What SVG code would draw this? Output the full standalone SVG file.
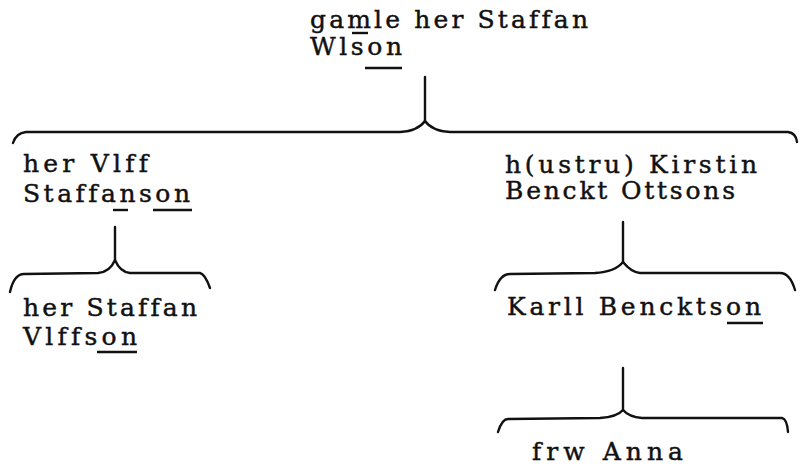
<svg xmlns="http://www.w3.org/2000/svg" width="801" height="470" viewBox="0 0 801 470">
<style>
text{font-family:"DejaVu Serif","Liberation Serif",serif;font-size:25px;fill:#111;stroke:#111;stroke-width:0.45;font-variant-ligatures:none;}
.ln{fill:none;stroke:#111;stroke-width:2.4;stroke-linecap:round;stroke-linejoin:round;}
.ul{stroke:#111;stroke-width:2.4;}
</style>
<rect width="801" height="470" fill="#fff"/>
<g id="connectors">
<path class="ln" d="M425,77 L425,121"/>
<path class="ln" d="M13,143 Q16,133 26,132 L400,132 Q418,131 425,121 Q432,131 450,132 L788,132 Q796,133 797,142"/>
<path class="ln" d="M115,227 L115,260"/>
<path class="ln" d="M10,292 Q14,274 24,274 L98,273 Q110,272 115,260 Q120,272 130,273 L200,273 Q205,274 210,288"/>
<path class="ln" d="M623,222 L623,262"/>
<path class="ln" d="M495,290 Q500,274 510,274 L595,273 Q615,272 623,262 Q631,272 640,273 L780,273 Q790,273 795,290"/>
<path class="ln" d="M623,368 L623,410"/>
<path class="ln" d="M498,432 Q502,419 508,419 L600,418 Q617,417 623,410 Q629,417 642,418 L782,418 Q787,419 788,432"/>
</g>
<g id="node-gamle">
<text x="310" y="28" textLength="278" lengthAdjust="spacing">gamle her Staffan</text>
<text x="310" y="55" textLength="92" lengthAdjust="spacing">Wlson</text>
<line class="ul" x1="352" y1="33" x2="368" y2="33"/>
<line class="ul" x1="365" y1="68" x2="402" y2="68"/>
</g>
<g id="node-vlff">
<text x="23" y="172" textLength="125" lengthAdjust="spacing">her Vlff</text>
<text x="23" y="202" textLength="167" lengthAdjust="spacing">Staffanson</text>
<line class="ul" x1="113" y1="210" x2="128" y2="210"/>
<line class="ul" x1="153" y1="210" x2="192" y2="210"/>
</g>
<g id="node-kirstin">
<text x="505" y="173" textLength="252" lengthAdjust="spacing">h(ustru) Kirstin</text>
<text x="505" y="199" textLength="230" lengthAdjust="spacing">Benckt Ottsons</text>
</g>
<g id="node-staffan">
<text x="23" y="316" textLength="174" lengthAdjust="spacing">her Staffan</text>
<text x="23" y="345" textLength="114" lengthAdjust="spacing">Vlffson</text>
<line class="ul" x1="97" y1="352" x2="137" y2="352"/>
</g>
<g id="node-karll">
<text x="507" y="315" textLength="254" lengthAdjust="spacing">Karll Benckts<tspan>on</tspan></text>
<line class="ul" x1="727" y1="323" x2="763" y2="323"/>
</g>
<g id="node-anna">
<text x="532" y="460" textLength="151" lengthAdjust="spacing">frw Anna</text>
</g>
</svg>
